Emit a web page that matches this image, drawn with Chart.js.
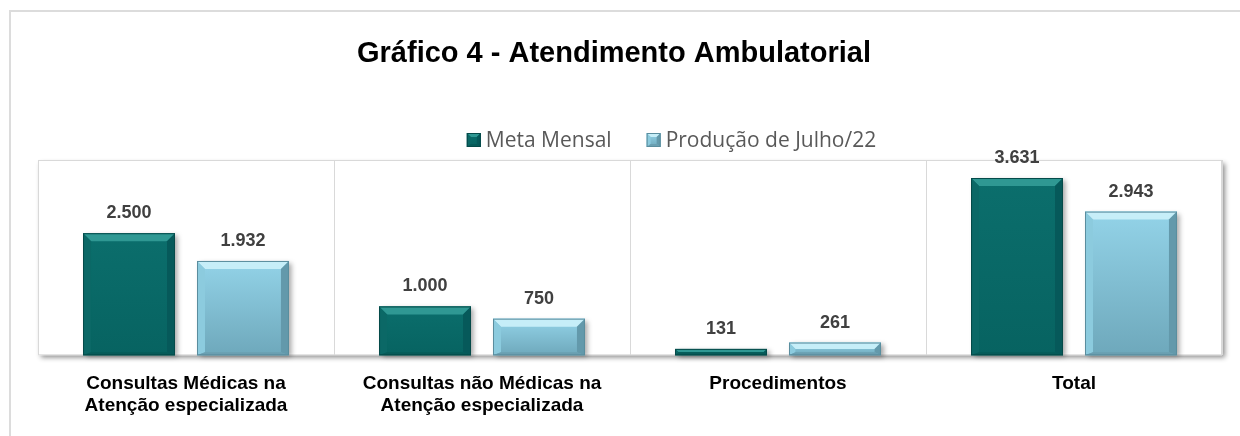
<!DOCTYPE html>
<html>
<head>
<meta charset="utf-8">
<script src="https://cdn.jsdelivr.net/npm/chart.js@4/dist/chart.umd.min.js"></script>
<style>
  html, body { margin: 0; padding: 0; background: #ffffff; overflow: hidden; }
  #frame { position: absolute; left: 9px; top: 10px; width: 1400px; height: 600px; border: 2px solid #dcdcdc; box-sizing: border-box; }
  #wrap { position: absolute; left: 0; top: 0; width: 1240px; height: 436px; }
</style>
</head>
<body>
<div id="frame"></div>
<div id="wrap"><canvas id="c" width="1240" height="436"></canvas></div>
<script>
const chartTitle = 'Gráfico 4 - Atendimento Ambulatorial';
const categories = [
  ['Consultas Médicas na', 'Atenção especializada'],
  ['Consultas não Médicas na', 'Atenção especializada'],
  ['Procedimentos'],
  ['Total']
];
const seriesNames = ['Meta Mensal', 'Produção de Julho/22'];
const metaMensal = [2500, 1000, 131, 3631];
const producaoJulho = [1932, 750, 261, 2943];

const styles = [
  { face: '#0a6a68', faceTop: '#0b6e6c', faceBot: '#076361', top: '#2f9893', left: '#0b6866', right: '#06595a', bottom: '#065b59', line: '#054a49' },
  { face: '#86c7dc', faceTop: '#93d3e8', faceBot: '#6ea8bb', top: '#c6eef8', left: '#8ccbde', right: '#6399ab', bottom: '#6a9fb1', line: '#5a8d9e' }
];

function fmt(v) { return String(v).replace(/\B(?=(\d{3})+(?!\d))/g, '.'); }

function bevelRect(ctx, l, t, r, bt, st, bMax, shadow) {
  const h = bt - t, w = r - l;
  if (h <= 0) return;
  const b = Math.max(1, Math.min(bMax, h / 2, w / 2));
  ctx.save();
  if (shadow) {
    ctx.shadowColor = 'rgba(0,0,0,0.35)';
    ctx.shadowBlur = 5;
    ctx.shadowOffsetX = 3;
    ctx.shadowOffsetY = 2;
  }
  const g = ctx.createLinearGradient(0, t, 0, bt);
  g.addColorStop(0, st.faceTop);
  g.addColorStop(1, st.faceBot);
  ctx.fillStyle = g;
  ctx.fillRect(l, t, w, h);
  ctx.restore();
  ctx.save();
  const poly = (pts, col) => {
    ctx.beginPath();
    ctx.moveTo(pts[0][0], pts[0][1]);
    for (let i = 1; i < pts.length; i++) ctx.lineTo(pts[i][0], pts[i][1]);
    ctx.closePath();
    ctx.fillStyle = col;
    ctx.fill();
  };
  const bb = Math.min(b, 3);
  poly([[l, t], [r, t], [r - b, t + b], [l + b, t + b]], st.top);
  poly([[l, t], [l + b, t + b], [l + b, bt - bb], [l, bt]], st.left);
  poly([[r, t], [r, bt], [r - b, bt - bb], [r - b, t + b]], st.right);
  poly([[l, bt], [l + b, bt - bb], [r - b, bt - bb], [r, bt]], st.bottom);
  ctx.strokeStyle = st.line;
  ctx.lineWidth = 1;
  ctx.strokeRect(l + 0.5, t + 0.5, w - 1, h - 1);
  ctx.restore();
}

const plotBox = {
  id: 'plotBox',
  beforeDraw(chart) {
    const { ctx, chartArea: a } = chart;
    ctx.save();
    ctx.shadowColor = 'rgba(0,0,0,0.45)';
    ctx.shadowBlur = 5;
    ctx.shadowOffsetX = 3;
    ctx.shadowOffsetY = 3;
    ctx.fillStyle = '#ffffff';
    ctx.fillRect(a.left, a.top, a.right - a.left, a.bottom - a.top);
    ctx.restore();
    ctx.save();
    ctx.strokeStyle = '#d9d9d9';
    ctx.lineWidth = 1;
    ctx.strokeRect(a.left + 0.5, a.top + 0.5, a.right - a.left - 1, a.bottom - a.top - 1);
    ctx.restore();
  }
};

const bevelBars = {
  id: 'bevelBars',
  afterDatasetsDraw(chart) {
    const ctx = chart.ctx;
    chart.data.datasets.forEach((ds, di) => {
      const meta = chart.getDatasetMeta(di);
      meta.data.forEach((el, i) => {
        const p = el.getProps(['x', 'y', 'base', 'width'], true);
        const l = p.x - p.width / 2, r = p.x + p.width / 2;
        bevelRect(ctx, l, p.y, r, p.base, styles[di], 8, true);
        ctx.save();
        ctx.font = 'bold 18px "Liberation Sans", Arial, sans-serif';
        ctx.fillStyle = '#404040';
        ctx.textAlign = 'center';
        ctx.textBaseline = 'alphabetic';
        ctx.fillText(fmt(ds.data[i]), p.x, p.y - 15);
        ctx.restore();
      });
    });
  }
};

const headerPlugin = {
  id: 'header',
  afterDraw(chart) {
    const ctx = chart.ctx;
    ctx.save();
    ctx.font = 'bold 29px "Liberation Sans", Arial, sans-serif';
    ctx.fillStyle = '#000000';
    ctx.textAlign = 'center';
    ctx.textBaseline = 'alphabetic';
    ctx.fillText(chartTitle, 614, 62);
    ctx.font = '21px "Open Sans", sans-serif';
    const box = 14, gapText = 5, gapItem = 35;
    const items = chart.data.datasets.map((d, i) => ({ label: d.label, w: ctx.measureText(d.label).width, st: styles[i] }));
    let total = 0;
    items.forEach((it, i) => { total += box + gapText + it.w + (i < items.length - 1 ? gapItem : 0); });
    let x = 671.5 - total / 2;
    const cy = 140;
    items.forEach(it => {
      bevelRect(ctx, x, cy - box / 2, x + box, cy + box / 2, it.st, 4, false);
      ctx.fillStyle = '#595959';
      ctx.textAlign = 'left';
      ctx.textBaseline = 'middle';
      ctx.fillText(it.label, x + box + gapText, cy + 1);
      x += box + gapText + it.w + gapItem;
    });
    ctx.restore();
  }
};

new Chart(document.getElementById('c'), {
  type: 'bar',
  data: {
    labels: categories,
    datasets: [
      { label: seriesNames[0], data: metaMensal, backgroundColor: styles[0].face, borderWidth: 0 },
      { label: seriesNames[1], data: producaoJulho, backgroundColor: styles[1].face, borderWidth: 0 }
    ]
  },
  options: {
    responsive: false,
    animation: false,
    devicePixelRatio: 1,
    layout: { padding: { left: 38, right: 18, top: 160, bottom: 1 } },
    datasets: { bar: { categoryPercentage: 0.77, barPercentage: 0.807 } },
    plugins: {
      legend: { display: false },
      title: { display: false },
      tooltip: { enabled: false }
    },
    scales: {
      x: {
        grid: { display: true, offset: true, color: '#d9d9d9', lineWidth: 1, drawTicks: false },
        border: { display: false },
        ticks: {
          color: '#000000',
          padding: 18,
          maxRotation: 0,
          autoSkip: false,
          font: { family: '"Liberation Sans", Arial, sans-serif', size: 19, weight: 'bold', lineHeight: 1.15 }
        }
      },
      y: {
        display: false,
        min: 0,
        max: 4000,
        grid: { display: false }
      }
    }
  },
  plugins: [plotBox, bevelBars, headerPlugin]
});
</script>
</body>
</html>
